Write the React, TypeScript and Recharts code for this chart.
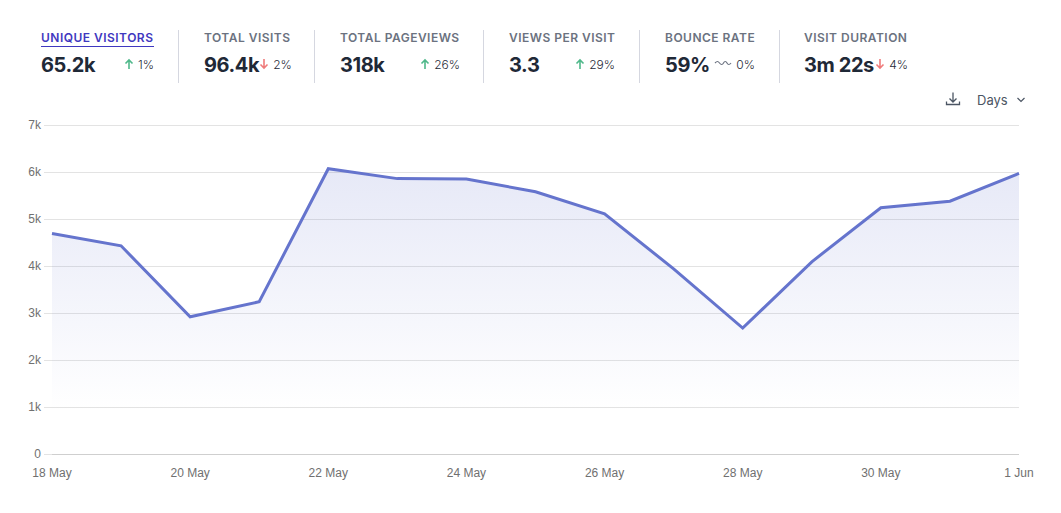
import React from 'react';
import { AreaChart, Area, XAxis, YAxis, CartesianGrid } from 'recharts';

const days = ['18 May', '19 May', '20 May', '21 May', '22 May', '23 May', '24 May', '25 May', '26 May', '27 May', '28 May', '29 May', '30 May', '31 May', '1 Jun'];
const visitors = [4700, 4440, 2930, 3250, 6080, 5870, 5860, 5590, 5120, 3950, 2690, 4100, 5250, 5390, 5980];
const yTicks = [0, 1000, 2000, 3000, 4000, 5000, 6000, 7000];

const metricLabels = ['UNIQUE VISITORS', 'TOTAL VISITS', 'TOTAL PAGEVIEWS', 'VIEWS PER VISIT', 'BOUNCE RATE', 'VISIT DURATION'];
const metricValues = ['65.2k', '96.4k', '318k', '3.3', '59%', '3m 22s'];
const metricChanges = ['1%', '2%', '26%', '29%', '0%', '4%'];
const metricTrends = ['up', 'down', 'up', 'up', 'flat', 'down'];
const metricLefts = [41, 204, 340, 509, 665, 804];
const metricRights = [154, 290, 460, 615, 755, 908];
const dividers = [178, 314, 483, 639, 779];

const font = 'Inter, sans-serif';
const axisFont = '"Liberation Sans", Arial, sans-serif';

const Trend = ({ kind }: { kind: string }) => {
  if (kind === 'flat') {
    return (
      <svg width="18" height="10" viewBox="0 0 18 10" fill="none" stroke="#6b7280" strokeWidth="1.2">
        <path d="M1 4c2-2 3-2 4.500 0s3 2 4 0 2.500-2 3.500 0 2.500 2 4 0" />
      </svg>
    );
  }
  const color = kind === 'up' ? '#4fb88a' : '#ef7b7b';
  return (
    <svg width="10" height="12" viewBox="0 0 10 12" fill="none" stroke={color} strokeWidth="1.6">
      {kind === 'up' ? <path d="M5 11V2M1.500 5.500 5 2l3.500 3.500" /> : <path d="M5 1v9M1.500 6.500 5 10l3.500-3.500" />}
    </svg>
  );
};

const Metric = ({ i }: { i: number }) => (
  <div style={{ position: 'absolute', left: metricLefts[i], top: 30, width: metricRights[i] - metricLefts[i], fontFamily: font }}>
    <div
      style={{
        fontSize: 12,
        lineHeight: '16px',
        fontWeight: 600,
        letterSpacing: '0.04em',
        whiteSpace: 'nowrap',
        color: i === 0 ? '#3f38c0' : '#6b7280',
        borderBottom: i === 0 ? '1px solid #3f38c0' : '1px solid transparent',
      }}
    >
      {metricLabels[i]}
    </div>
    <div style={{ display: 'flex', justifyContent: 'space-between', alignItems: 'center', marginTop: 4, height: 28 }}>
      <span style={{ fontSize: 20, fontWeight: 700, letterSpacing: '-0.02em', color: '#1f2937', whiteSpace: 'nowrap' }}>{metricValues[i]}</span>
      <span style={{ display: 'flex', alignItems: 'center', gap: 4, fontSize: 12, fontWeight: 300, color: '#1f2937', marginTop: -2 }}>
        <Trend kind={metricTrends[i]} />
        {metricChanges[i]}
      </span>
    </div>
  </div>
);

export default function App() {
  return (
    <div style={{ position: 'absolute', left: 0, top: 0, width: 1061, height: 513, background: '#fff', overflow: 'hidden' }}>
      {metricLabels.map((m, i) => (
        <Metric key={m} i={i} />
      ))}
      {dividers.map((x) => (
        <div key={x} style={{ position: 'absolute', left: x, top: 30, width: 1, height: 53, background: '#d5d7e0' }} />
      ))}

      <svg style={{ position: 'absolute', left: 945, top: 91 }} width="16" height="16" viewBox="0 0 16 16" fill="none" stroke="#4b5563" strokeWidth="1.3">
        <path d="M8 1.500v9M4.500 7.500 8 11l3.500-3.500M1.500 10.500v3h13v-3" />
      </svg>
      <div style={{ position: 'absolute', left: 977, top: 92, fontFamily: font, fontSize: 13, lineHeight: '16px', color: '#4b5563' }}>Days</div>
      <svg style={{ position: 'absolute', left: 1016, top: 96 }} width="10" height="8" viewBox="0 0 10 8" fill="none" stroke="#4b5563" strokeWidth="1.2">
        <path d="M1.500 2 5 5.500 8.500 2" />
      </svg>

      <div style={{ position: 'absolute', left: 0, top: 115 }}>
        <AreaChart
          width={1061}
          height={366}
          data={days.map((day, i) => ({ day, visitors: visitors[i] }))}
          margin={{ top: 10.5, right: 42, bottom: 0, left: 0 }}
        >
          <defs>
            <linearGradient id="visitorsFill" x1="0" y1="0" x2="0" y2="1">
              <stop offset="0%" stopColor="#6574cd" stopOpacity={0.16} />
              <stop offset="85%" stopColor="#6574cd" stopOpacity={0} />
            </linearGradient>
          </defs>
          <CartesianGrid vertical={false} stroke="#e3e3e3" syncWithTicks />
          <XAxis
            dataKey="day"
            interval={1}
            axisLine={{ stroke: '#cfcfcf' }}
            tickLine={false}
            tickMargin={8}
            height={26.5}
            tick={{ fill: '#707070', fontSize: 12, fontFamily: axisFont }}
          />
          <YAxis
            width={52}
            domain={[0, 7000]}
            ticks={yTicks}
            axisLine={false}
            tickLine={{ stroke: '#e3e3e3' }}
            tickSize={8}
            tickMargin={3}
            tickFormatter={(v: number) => (v === 0 ? '0' : `${v / 1000}k`)}
            tick={{ fill: '#707070', fontSize: 12, fontFamily: axisFont, dy: -1 }}
          />
          <Area
            type="linear"
            dataKey="visitors"
            stroke="#6574cd"
            strokeWidth={3}
            fill="url(#visitorsFill)"
            fillOpacity={1}
            dot={false}
            activeDot={false}
            isAnimationActive={false}
          />
        </AreaChart>
      </div>
    </div>
  );
}
